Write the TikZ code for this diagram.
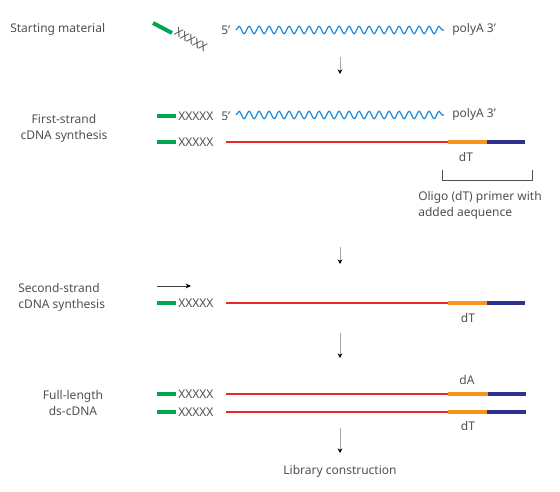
\documentclass[tikz,border=0pt]{standalone}
\usepackage{fontspec}
\setmainfont{Noto Sans}
\usetikzlibrary{arrows.meta,decorations.pathmorphing}

\definecolor{txtgray}{HTML}{505050}
\definecolor{adaptgreen}{HTML}{00A651}
\definecolor{rnablue}{HTML}{1E88D8}
\definecolor{cdnared}{HTML}{E8282A}
\definecolor{dtorange}{HTML}{F7941D}
\definecolor{tagnavy}{HTML}{2E3192}

\begin{document}
\begin{tikzpicture}[x=0.75pt,y=-0.75pt,
  stage/.style={font=\fontsize{9}{12}\selectfont,text=txtgray,align=center,inner sep=0pt},
  seq/.style={font=\fontsize{9}{12}\selectfont,text=txtgray,inner sep=0pt},
  adapter/.style={draw=adaptgreen,line width=3pt},
  rna/.style={draw=rnablue,line width=0.9pt,decorate,
    decoration={snake,segment length=7.5pt,amplitude=2.8pt}},
  cdna/.style={draw=cdnared,line width=0.8pt},
  polyt/.style={draw=dtorange,line width=3pt},
  tail/.style={draw=tagnavy,line width=3pt},
  flow/.style={draw=gray!70,line width=0.6pt,-{Stealth[black,length=3.5pt,width=3.5pt]}}
]
  \useasboundingbox (0,0) rectangle (560,492);

  % starting material
  \node[stage,anchor=west] (start) at (10,29) {Starting material};
  \draw[adapter] (153,23) -- (172,33);
  \node[seq,rotate=-30] (freeadp) at (191,40) {XXXXX};
  \node[seq,anchor=west] (rna5a) at (221,30) {5'};
  \node[seq,anchor=west] (rna3a) at (452,29) {polyA 3'};
  \coordinate (wave1s) at (236,30);
  \coordinate (wave1e) at (444,30);
  \draw[rna] (wave1s) -- (wave1e);
  \coordinate (s1top) at (340,57);
  \coordinate (s1bot) at (340,74);
  \draw[flow] (s1top) -- (s1bot);

  % first strand
  \node[stage] (first) at (64,128) {First-strand\\cDNA synthesis};
  \draw[adapter] (157,116) -- (176,116);
  \node[seq,anchor=west] (adp1) at (178,116) {XXXXX};
  \node[seq,anchor=west] (rna5b) at (221,116) {5'};
  \node[seq,anchor=west] (rna3b) at (452,114) {polyA 3'};
  \coordinate (wave2s) at (236,115);
  \coordinate (wave2e) at (444,115);
  \draw[rna] (wave2s) -- (wave2e);
  \draw[adapter] (157,142) -- (176,142);
  \node[seq,anchor=west] (adp2) at (178,142) {XXXXX};
  \draw[cdna] (226,142) -- (448,142);
  \draw[polyt] (448,142) -- (487,142);
  \draw[tail] (487,142) -- (525,142);
  \node[seq] (dt1) at (466,157) {dT};
  \draw[txtgray,line width=0.6pt] (442,170) -- (442,180) -- (532,180) -- (532,170);
  \node[seq,anchor=north west,align=left] (oligo) at (418,191)
    {Oligo (dT) primer with\\added aequence};
  \coordinate (s2top) at (340,247);
  \coordinate (s2bot) at (340,264);
  \draw[flow] (s2top) -- (s2bot);

  % second strand
  \node[stage,align=left,anchor=west] (second) at (18,297) {Second-strand\\cDNA synthesis};
  \coordinate (exttail) at (157,286);
  \coordinate (exthead) at (191,286);
  \draw[draw=black!75,line width=0.6pt,-{Stealth[black,length=4pt,width=3.5pt]}] (exttail) -- (exthead);
  \draw[adapter] (157,303) -- (176,303);
  \node[seq,anchor=west] (adp3) at (178,303) {XXXXX};
  \draw[cdna] (226,303) -- (448,303);
  \draw[polyt] (448,303) -- (487,303);
  \draw[tail] (487,303) -- (525,303);
  \node[seq] (dt2) at (468,318) {dT};
  \coordinate (s3top) at (340,333);
  \coordinate (s3bot) at (340,358);
  \draw[flow] (s3top) -- (s3bot);

  % full length
  \node[stage] (full) at (73,403) {Full-length\\ds-cDNA};
  \draw[adapter] (157,394) -- (176,394);
  \node[seq,anchor=west] (adp4) at (178,394) {XXXXX};
  \draw[cdna] (226,394) -- (448,394);
  \draw[polyt] (448,394) -- (488,394);
  \draw[tail] (488,394) -- (526,394);
  \node[seq] (da) at (467,380) {dA};
  \draw[adapter] (157,412) -- (176,412);
  \node[seq,anchor=west] (adp5) at (178,412) {XXXXX};
  \draw[cdna] (226,412) -- (448,412);
  \draw[polyt] (448,412) -- (487,412);
  \draw[tail] (487,412) -- (526,412);
  \node[seq] (dt3) at (468,426) {dT};
  \coordinate (s4top) at (340,428);
  \coordinate (s4bot) at (340,453);
  \draw[flow] (s4top) -- (s4bot);

  \node[stage] (library) at (340,471) {Library construction};
\end{tikzpicture}
\end{document}
